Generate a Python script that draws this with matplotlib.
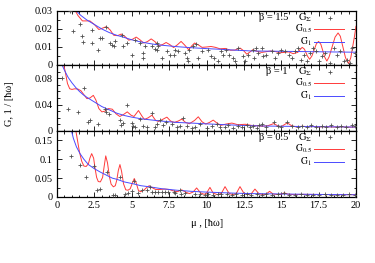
import numpy as np
import matplotlib
matplotlib.use('Agg')
import matplotlib.pyplot as plt
from matplotlib.ticker import MultipleLocator

plt.rcParams['font.family'] = ['Liberation Serif', 'DejaVu Serif']
plt.rcParams['mathtext.fontset'] = 'stix'
plt.rcParams['font.size'] = 7.5

# beta = 1.5 panel
b15_sum_x = [0.87, 1.09, 1.54, 1.65, 1.76, 2.32, 2.32, 2.76, 2.88, 3.0, 3.3, 3.55, 3.66, 3.8, 3.88,
             4.33, 4.44, 4.66, 5.0, 5.2, 5.55, 5.77, 5.77, 5.88, 6.33, 6.55, 6.66, 6.67, 6.78, 7.0,
             7.34, 7.56, 7.8, 7.9, 8.1, 8.56, 8.67, 8.78, 8.8, 9.1, 9.3, 9.45, 9.67, 10.1, 10.3,
             10.5, 10.8, 11.0, 11.1, 11.3, 11.5, 11.8, 11.9, 12.1, 12.45, 12.56, 12.8, 13.1, 13.2,
             13.3, 13.47, 13.7, 13.8, 14.0, 14.35, 14.6, 14.8, 15.0, 15.25, 15.5, 15.7, 15.9, 16.15,
             16.3, 16.5, 16.7, 16.9, 17.15, 17.35, 17.5, 17.7, 17.9, 18.25, 18.5, 18.7, 18.95, 19.2,
             19.4, 19.6, 19.75, 19.9]
b15_sum_y = [0.030, 0.0187, 0.023, 0.016, 0.013, 0.0196, 0.012, 0.0085, 0.015, 0.015, 0.021, 0.0122,
             0.011, 0.0105, 0.0131, 0.0168, 0.0105, 0.0122, 0.0057, 0.014, 0.012, 0.0067, 0.0039,
             0.0105, 0.0105, 0.0087, 0.012, 0.0085, 0.0105, 0.0039, 0.0076, 0.0057, 0.0057, 0.0085,
             0.0076, 0.0067, 0.0039, 0.002, 0.0085, 0.0105, 0.0115, 0.0039, 0.0076, 0.0085, 0.005,
             0.0039, 0.002, 0.0076, 0.0057, 0.0085, 0.0057, 0.0039, 0.002, 0.0095, 0.005, 0.002,
             0.0057, 0.0085, 0.0039, 0.0095, 0.0067, 0.0095, 0.005, 0.0057, 0.0076, 0.0039, 0.0067,
             0.0085, 0.0076, 0.0057, 0.0039, 0.0076, 0.0095, 0.003, 0.0057, 0.002, 0.0067, 0.0095,
             0.0076, 0.002, 0.005, 0.0067, 0.0011, 0.0095, 0.0057, 0.0076, 0.002, 0.003, 0.0013,
             0.0095, 0.0067]
b15_g05_x = [0.8, 1.1, 1.4, 1.7, 2.0, 2.2, 2.5, 2.8, 3.05, 3.3, 3.55, 3.8, 4.05, 4.3, 4.55, 4.8, 5.05,
             5.3, 5.55, 5.8, 6.05, 6.3, 6.55, 6.8, 7.05, 7.3, 7.55, 7.8, 8.05, 8.3, 8.55, 8.8, 9.0,
             9.2, 9.45, 9.7, 10.0, 10.3, 10.6, 10.9, 11.25, 11.6, 11.9, 12.25, 12.5, 12.7, 12.9, 13.1,
             13.4, 13.7, 14.0, 14.3, 14.6, 14.9, 15.2, 15.5, 15.8, 16.1, 16.25, 16.4, 16.55, 16.75,
             16.9, 17.05, 17.35, 17.5, 17.65, 17.9, 18.05, 18.2, 18.6, 18.8, 18.95, 19.3, 19.5,
             19.65, 19.9, 20.0]
b15_g05_y = [0.036, 0.032, 0.0275, 0.0245, 0.0245, 0.0245, 0.0225, 0.0197, 0.0205, 0.0213, 0.0195,
             0.0165, 0.0163, 0.0172, 0.0158, 0.0138, 0.0143, 0.0155, 0.014, 0.0122, 0.013, 0.0145,
             0.013, 0.0108, 0.0113, 0.0125, 0.0113, 0.0097, 0.0112, 0.0131, 0.011, 0.0085, 0.0105,
             0.0122, 0.0112, 0.0098, 0.01, 0.0103, 0.0098, 0.009, 0.0092, 0.0082, 0.0083, 0.0094,
             0.0078, 0.006, 0.0072, 0.0085, 0.0075, 0.007, 0.0074, 0.0078, 0.0075, 0.0068, 0.007,
             0.0073, 0.0063, 0.007, 0.0085, 0.0098, 0.0088, 0.005, 0.0032, 0.005, 0.0118, 0.0131,
             0.0115, 0.0045, 0.0022, 0.0045, 0.0155, 0.0178, 0.016, 0.004, 0.0008, 0.004, 0.016,
             0.0215]
b15_g1_x = [1.0, 1.3, 1.6, 2.0, 2.5, 3.0, 3.5, 4.0, 4.5, 5.0, 5.5, 6.0, 6.5, 7.0, 8.0, 9.0, 10.0,
            11.0, 12.0, 13.0, 14.0, 15.0, 16.0, 17.0, 18.0, 19.0, 20.0]
b15_g1_y = [0.034, 0.030, 0.0275, 0.025, 0.0225, 0.020, 0.018, 0.0165, 0.0153, 0.014, 0.013, 0.0122,
            0.0115, 0.011, 0.0102, 0.0096, 0.0091, 0.0087, 0.0082, 0.0078, 0.0077, 0.0076, 0.0075,
            0.0074, 0.0073, 0.0072, 0.0071]

# beta = 1 panel
b1_sum_x = [0.31, 0.76, 1.43, 1.8, 2.1, 2.2, 2.76, 3.2, 3.3, 3.5, 4.2, 4.3, 4.4, 4.66, 5.0, 5.1, 5.2,
            5.55, 5.77, 6.0, 6.33, 6.55, 6.66, 6.9, 7.1, 7.3, 7.67, 8.0, 8.2, 8.45, 8.67, 9.0, 9.23,
            9.56, 10.0, 10.34, 10.7, 10.9, 11.24, 11.46, 11.8, 12.1, 12.35, 12.7, 12.9, 13.1, 13.35,
            13.5, 13.7, 14.0, 14.5, 14.8, 15.0, 15.4, 15.7, 16.1, 16.4, 16.7, 17.0, 17.3, 17.7, 18.0,
            18.3, 18.7, 19.0, 19.3, 19.7, 19.9]
b1_sum_y = [0.080, 0.034, 0.029, 0.065, 0.0138, 0.016, 0.011, 0.034, 0.029, 0.026, 0.0165, 0.009,
            0.0115, 0.0395, 0.0115, 0.008, 0.006, 0.0185, 0.008, 0.006, 0.0267, 0.006, 0.011, 0.016,
            0.009, 0.0135, 0.011, 0.006, 0.008, 0.019, 0.008, 0.0045, 0.006, 0.011, 0.0045, 0.008,
            0.011, 0.006, 0.006, 0.009, 0.0045, 0.008, 0.006, 0.009, 0.006, 0.008, 0.0045, 0.009,
            0.011, 0.006, 0.0138, 0.008, 0.006, 0.0138, 0.008, 0.006, 0.008, 0.006, 0.009, 0.006,
            0.008, 0.006, 0.0085, 0.006, 0.008, 0.006, 0.009, 0.008]
b1_g05_x = [0.4, 0.55, 0.7, 0.85, 1.0, 1.2, 1.4, 1.6, 1.8, 2.0, 2.2, 2.43, 2.6, 2.8, 3.0, 3.2, 3.45,
            3.7, 3.95, 4.2, 4.45, 4.7, 4.95, 5.15, 5.45, 5.7, 5.85, 6.1, 6.35, 6.6, 6.8, 7.1, 7.35,
            7.6, 7.85, 8.1, 8.35, 8.6, 8.85, 9.2, 9.45, 9.7, 9.95, 10.2, 10.45, 10.7, 10.95, 11.3,
            11.7, 12.1, 12.6, 13.0, 13.4, 13.7, 14.1, 14.5, 14.8, 15.0, 15.2, 15.4, 15.7, 16.0, 16.4,
            16.8, 17.2, 17.6, 18.0, 18.5, 19.0, 19.5, 20.0]
b1_g05_y = [0.105, 0.090, 0.072, 0.064, 0.063, 0.064, 0.0635, 0.061, 0.055, 0.049, 0.050, 0.054,
            0.047, 0.034, 0.029, 0.030, 0.034, 0.033, 0.026, 0.022, 0.025, 0.029, 0.024, 0.022, 0.031,
            0.022, 0.0175, 0.020, 0.024, 0.016, 0.0145, 0.018, 0.021, 0.015, 0.013, 0.015, 0.018,
            0.013, 0.011, 0.016, 0.0215, 0.014, 0.0105, 0.013, 0.0165, 0.012, 0.0085, 0.0105, 0.012,
            0.0095, 0.0102, 0.0085, 0.008, 0.0072, 0.008, 0.0112, 0.0075, 0.0065, 0.0095, 0.0122,
            0.008, 0.0062, 0.0072, 0.0065, 0.0068, 0.0062, 0.0066, 0.006, 0.0064, 0.0058, 0.006]
b1_g1_x = [0.3, 0.5, 0.75, 1.0, 1.25, 1.5, 1.75, 2.0, 2.5, 3.0, 3.5, 4.0, 4.5, 5.0, 5.5, 6.0, 7.0,
           8.0, 9.0, 10.0, 11.0, 12.0, 13.0, 14.0, 15.0, 16.0, 17.0, 18.0, 19.0, 20.0]
b1_g1_y = [0.102, 0.092, 0.081, 0.073, 0.066, 0.060, 0.055, 0.051, 0.044, 0.037, 0.032, 0.027,
           0.0235, 0.021, 0.019, 0.0175, 0.015, 0.013, 0.012, 0.0108, 0.0098, 0.0088, 0.008,
           0.0075, 0.0072, 0.0069, 0.0066, 0.0064, 0.0062, 0.006]

# beta = 0.5 panel
b05_sum_x = [0.91, 1.54, 1.94, 2.47, 2.7, 2.88, 3.32, 3.77, 3.9, 4.2, 4.55, 4.77, 5.0, 5.15, 5.45,
             5.67, 6.0, 6.2, 6.33, 6.55, 6.78, 7.0, 7.2, 7.45, 7.8, 7.9, 8.2, 8.3, 8.56, 9.23, 9.56,
             9.9, 10.12, 10.46, 10.8, 11.0, 11.35, 11.7, 12.0, 12.35, 12.7, 13.0, 13.35, 13.7, 14.0,
             14.4, 14.8, 15.2, 15.5, 15.9, 16.3, 16.7, 17.1, 17.5, 17.9, 18.3, 18.7, 19.1, 19.5, 19.9]
b05_sum_y = [0.109, 0.086, 0.053, 0.082, 0.018, 0.022, 0.067, 0.005, 0.004, 0.053, 0.008, 0.011,
             0.015, 0.042, 0.011, 0.0175, 0.019, 0.026, 0.012, 0.012, 0.012, 0.012, 0.012, 0.012,
             0.014, 0.0105, 0.018, 0.009, 0.0105, 0.009, 0.009, 0.006, 0.0075, 0.006, 0.0075, 0.0075,
             0.0075, 0.006, 0.0075, 0.006, 0.0075, 0.006, 0.0075, 0.006, 0.0075, 0.005, 0.007, 0.010,
             0.006, 0.005, 0.007, 0.005, 0.0065, 0.005, 0.007, 0.005, 0.0065, 0.005, 0.007, 0.006]
b05_g05_x = [1.2, 1.35, 1.5, 1.65, 1.8, 1.95, 2.1, 2.2, 2.32, 2.45, 2.55, 2.65, 2.76, 2.9, 3.05, 3.15,
             3.26, 3.38, 3.5, 3.62, 3.77, 3.9, 4.0, 4.1, 4.21, 4.32, 4.45, 4.6, 4.75, 4.9, 5.05, 5.17,
             5.3, 5.45, 5.6, 5.8, 6.0, 6.17, 6.35, 6.6, 6.9, 7.2, 7.5, 7.8, 8.05, 8.34, 8.6, 8.85,
             9.1, 9.34, 9.6, 9.85, 10.0, 10.23, 10.45, 10.75, 11.0, 11.24, 11.5, 11.75, 12.0, 12.24,
             12.5, 12.75, 13.0, 13.24, 13.5, 13.75, 14.0, 14.22, 14.45, 14.75, 15.0, 15.2, 15.45,
             15.8, 16.5, 17.2, 18.0, 19.0, 20.0]
b05_g05_y = [0.19, 0.155, 0.120, 0.095, 0.082, 0.081, 0.088, 0.103, 0.115, 0.103, 0.075, 0.052, 0.041,
             0.040, 0.052, 0.080, 0.109, 0.090, 0.055, 0.034, 0.027, 0.030, 0.045, 0.070, 0.086,
             0.068, 0.035, 0.019, 0.018, 0.022, 0.038, 0.049, 0.037, 0.017, 0.014, 0.018, 0.025,
             0.030, 0.025, 0.020, 0.020, 0.021, 0.020, 0.016, 0.014, 0.019, 0.013, 0.009, 0.013,
             0.024, 0.011, 0.007, 0.010, 0.0255, 0.010, 0.006, 0.010, 0.0275, 0.010, 0.006, 0.010,
             0.0275, 0.010, 0.0065, 0.009, 0.021, 0.009, 0.0065, 0.008, 0.015, 0.008, 0.0065, 0.0075,
             0.011, 0.0075, 0.0065, 0.007, 0.0068, 0.0065, 0.0063, 0.0062]
b05_g1_x = [0.95, 1.1, 1.3, 1.54, 1.8, 2.1, 2.5, 2.9, 3.3, 3.7, 4.0, 4.5, 5.1, 5.6, 6.2, 7.0, 8.0,
            9.0, 10.0, 11.0, 12.0, 13.0, 14.0, 15.0, 16.0, 17.0, 18.0, 19.0, 20.0]
b05_g1_y = [0.178, 0.155, 0.133, 0.115, 0.100, 0.086, 0.075, 0.066, 0.058, 0.050, 0.047, 0.040,
            0.035, 0.030, 0.027, 0.022, 0.018, 0.015, 0.013, 0.0115, 0.010, 0.009, 0.0085, 0.008,
            0.0075, 0.007, 0.0066, 0.0063, 0.006]

betas = ['β = 1.5', 'β = 1', 'β = 0.5']
ylims = [0.03, 0.1, 0.175]
ymajor = [0.01, 0.04, 0.05]
yminor = [0.005, 0.01, 0.025]

panels = [(b15_sum_x, b15_sum_y, b15_g05_x, b15_g05_y, b15_g1_x, b15_g1_y),
          (b1_sum_x, b1_sum_y, b1_g05_x, b1_g05_y, b1_g1_x, b1_g1_y),
          (b05_sum_x, b05_sum_y, b05_g05_x, b05_g05_y, b05_g1_x, b05_g1_y)]

W, H = 375, 263
fig = plt.figure(figsize=(3.75, 2.63), dpi=100)
left, right = 57, 356
tops = [11, 65, 131]
bots = [65, 131, 197]

for i in range(3):
    ax = fig.add_axes([left / W, 1 - bots[i] / H, (right - left) / W, (bots[i] - tops[i]) / H])
    sx, sy, rx, ry, bx, by = panels[i]
    ax.plot(sx, sy, '+', color='#505050', ms=3.5, mew=0.6, zorder=3)
    ax.plot(rx, ry, '-', color='#ff3a3a', lw=0.7, zorder=2)
    ax.plot(bx, by, '-', color='#4a4aff', lw=0.7, zorder=2)
    ax.set_xlim(0, 20)
    ax.set_ylim(0, ylims[i])
    ax.xaxis.set_major_locator(MultipleLocator(2.5))
    ax.xaxis.set_minor_locator(MultipleLocator(0.5))
    ax.yaxis.set_major_locator(MultipleLocator(ymajor[i]))
    ax.yaxis.set_minor_locator(MultipleLocator(yminor[i]))
    ax.tick_params(which='both', direction='in', top=True, right=True, width=0.6, pad=3)
    ax.tick_params(which='major', length=3.5)
    ax.tick_params(which='minor', length=1.8)
    ax.yaxis.set_major_formatter(plt.FuncFormatter(lambda v, p: ('%g' % round(v, 4))))
    ax.xaxis.set_major_formatter(plt.FuncFormatter(lambda v, p: ('%g' % v)))
    if i < 2:
        ax.set_xticklabels([])
    for s in ax.spines.values():
        s.set_linewidth(0.9)

    # key in the upper right, placed in pixels from the panel top
    top_f = 1 - tops[i] / H
    rows = [top_f - 6.5 / H, top_f - 18 / H, top_f - 30.5 / H]
    fig.text(288 / W, rows[0], betas[i], ha='right', va='center')
    fig.text(312 / W, rows[0], r'$\mathrm{G}_{\Sigma}$', ha='right', va='center')
    fig.lines.append(plt.Line2D([330 / W], [rows[0]], marker='+', color='#505050', ms=3.5,
                                mew=0.6, transform=fig.transFigure))
    fig.text(312 / W, rows[1], r'$\mathrm{G}_{0.5}$', ha='right', va='center', fontsize=7)
    fig.lines.append(plt.Line2D([314 / W, 344 / W], [rows[1], rows[1]], color='#ff3a3a', lw=0.7,
                                transform=fig.transFigure))
    fig.text(312 / W, rows[2], r'$\mathrm{G}_{1}$', ha='right', va='center', fontsize=7)
    fig.lines.append(plt.Line2D([314 / W, 344 / W], [rows[2], rows[2]], color='#4a4aff', lw=0.7,
                                transform=fig.transFigure))

fig.text(10 / W, 1 - 104 / H, 'G, 1 / [ħω]', rotation=90, ha='center', va='center')
fig.text(207 / W, 1 - 224 / H, 'μ , [ħω]', ha='center', va='center')

fig.savefig('out.png', dpi=100)
